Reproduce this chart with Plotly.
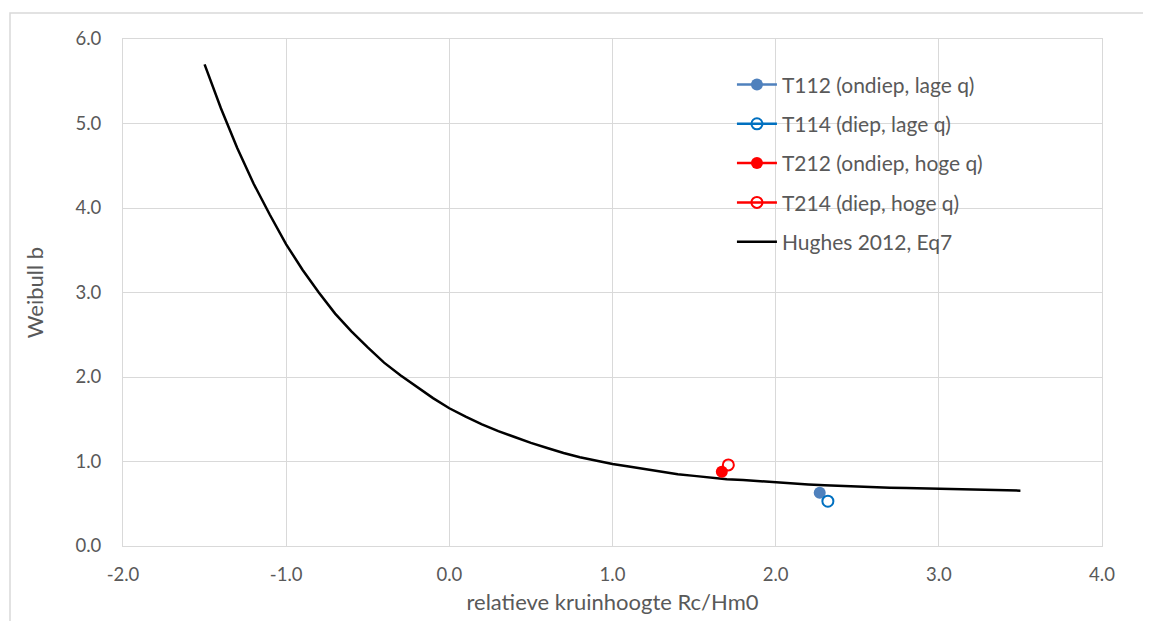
import plotly.graph_objects as go

# Hughes 2012, Eq7 curve
hughes_x = [-1.5, -1.4, -1.3, -1.2, -1.1, -1.0, -0.9, -0.8, -0.7, -0.6, -0.5, -0.4, -0.3, -0.2, -0.1,
            0.0, 0.1, 0.2, 0.3, 0.4, 0.5, 0.6, 0.7, 0.8, 0.9, 1.0, 1.1, 1.2, 1.3, 1.4, 1.5, 1.6, 1.7,
            1.8, 1.9, 2.0, 2.1, 2.2, 2.3, 2.4, 2.5, 2.6, 2.7, 2.8, 2.9, 3.0, 3.1, 3.2, 3.3, 3.4, 3.5]
hughes_b = [5.70, 5.18, 4.71, 4.29, 3.92, 3.57, 3.27, 3.00, 2.75, 2.54, 2.35, 2.17, 2.02, 1.88, 1.75,
            1.63, 1.53, 1.44, 1.36, 1.29, 1.22, 1.16, 1.10, 1.05, 1.01, 0.97, 0.94, 0.91, 0.88, 0.85,
            0.83, 0.81, 0.79, 0.78, 0.765, 0.75, 0.74, 0.728, 0.718, 0.71, 0.70, 0.695, 0.69, 0.685,
            0.68, 0.675, 0.672, 0.665, 0.66, 0.658, 0.655]

# measured tests
t112_x, t112_b = [2.27], [0.63]
t114_x, t114_b = [2.32], [0.53]
t212_x, t212_b = [1.67], [0.88]
t214_x, t214_b = [1.71], [0.96]

# tick labels
x_ticks = [-2, -1, 0, 1, 2, 3, 4]
x_labels = ["-2.0", "-1.0", "0.0", "1.0", "2.0", "3.0", "4.0"]
y_ticks = [0, 1, 2, 3, 4, 5, 6]
y_labels = ["0.0", "1.0", "2.0", "3.0", "4.0", "5.0", "6.0"]

FONT = "Lato, 'Open Sans', sans-serif"
GRAY = "#595959"

fig = go.Figure()

fig.add_trace(go.Scatter(x=hughes_x, y=hughes_b, mode="lines", name="Hughes 2012, Eq7",
                         line=dict(color="#000000", width=2.5), legendgroup="e", legendrank=5))
fig.add_trace(go.Scatter(x=t112_x, y=t112_b, mode="lines+markers", name="T112 (ondiep, lage q)",
                         line=dict(color="#4F81BD", width=2.5),
                         marker=dict(symbol="circle", size=12, color="#4F81BD"),
                         legendgroup="a", legendrank=1))
fig.add_trace(go.Scatter(x=t114_x, y=t114_b, mode="lines+markers", name="T114 (diep, lage q)",
                         line=dict(color="#0070C0", width=2.5),
                         marker=dict(symbol="circle-open", size=11, color="#0070C0", line=dict(width=2)),
                         legendgroup="b", legendrank=2))
fig.add_trace(go.Scatter(x=t212_x, y=t212_b, mode="lines+markers", name="T212 (ondiep, hoge q)",
                         line=dict(color="#FF0000", width=2.5),
                         marker=dict(symbol="circle", size=12, color="#FF0000"),
                         legendgroup="c", legendrank=3))
fig.add_trace(go.Scatter(x=t214_x, y=t214_b, mode="lines+markers", name="T214 (diep, hoge q)",
                         line=dict(color="#FF0000", width=2.5),
                         marker=dict(symbol="circle-open", size=11, color="#FF0000", line=dict(width=2)),
                         legendgroup="d", legendrank=4))

fig.update_layout(
    width=1143, height=613,
    margin=dict(l=115, r=49, t=31, b=75, autoexpand=False),
    paper_bgcolor="white", plot_bgcolor="white",
    font=dict(family=FONT, size=18, color=GRAY),
    showlegend=True,
    legend=dict(x=0.622, y=0.95, xanchor="left", yanchor="top",
                traceorder="grouped", tracegroupgap=9,
                font=dict(family=FONT, size=21, color=GRAY),
                bgcolor="rgba(255,255,255,0)", itemwidth=40),
    xaxis=dict(range=[-2, 4], tickvals=x_ticks, ticktext=x_labels, automargin=False,
               showgrid=True, gridcolor="#D9D9D9", gridwidth=1,
               showline=True, linecolor="#D9D9D9", linewidth=1, mirror=True,
               zeroline=False, ticks="outside", ticklen=12, tickcolor="rgba(0,0,0,0)",
               tickfont=dict(family=FONT, size=18.5, color=GRAY),
               title=dict(text="relatieve kruinhoogte Rc/Hm0", standoff=10,
                          font=dict(family=FONT, size=22, color=GRAY))),
    yaxis=dict(range=[0, 6], tickvals=y_ticks, ticktext=y_labels, automargin=False,
               showgrid=True, gridcolor="#D9D9D9", gridwidth=1,
               showline=True, linecolor="#D9D9D9", linewidth=1, mirror=True,
               zeroline=False, ticks="outside", ticklen=17, tickcolor="rgba(0,0,0,0)",
               tickfont=dict(family=FONT, size=18.5, color=GRAY),
               title=dict(text="Weibull b", standoff=25,
                          font=dict(family=FONT, size=22, color=GRAY))),
    shapes=[dict(type="rect", xref="paper", yref="paper",
                 x0=-113/979, x1=1.1, y0=-0.2, y1=533/507,
                 line=dict(color="#D9D9D9", width=1.5), fillcolor="rgba(0,0,0,0)", layer="below")],
)

fig.write_html("out.html")
